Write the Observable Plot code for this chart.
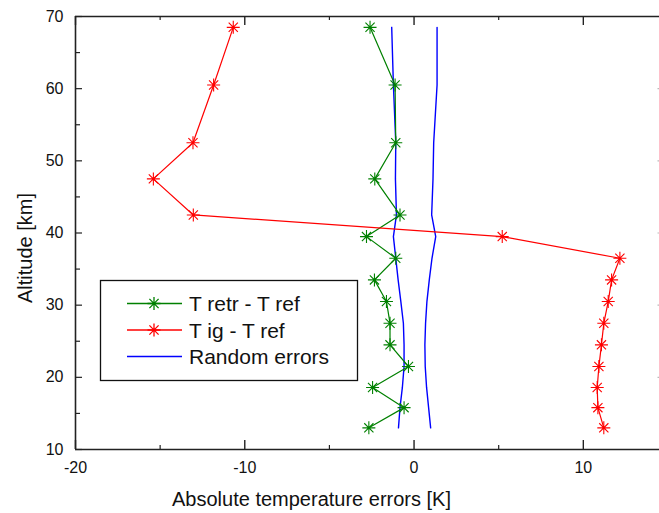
<!DOCTYPE html>
<html><head><meta charset="utf-8">
<script src="https://cdn.jsdelivr.net/npm/d3@7"></script>
<script src="https://cdn.jsdelivr.net/npm/@observablehq/plot@0.6"></script>
<style>
body{margin:0;background:#fff;}
#chart{width:659px;height:513px;}
</style></head><body><div id="chart"></div>
<script>
// ---- data ----
const altitudes    = [68.5, 60.5, 52.5, 47.5, 42.5, 39.5, 36.5, 33.5, 30.5, 27.5, 24.5, 21.5, 18.6, 15.8, 13.0];
const retrMinusRef = [-2.6, -1.12, -1.08, -2.32, -0.83, -2.81, -1.08, -2.34, -1.63, -1.42, -1.42, -0.33, -2.45, -0.59, -2.67];
const igMinusRef   = [-10.68, -11.84, -13.06, -15.4, -13.04, 5.21, 12.16, 11.67, 11.47, 11.21, 11.07, 10.92, 10.82, 10.86, 11.21];
const randomLow    = [-1.32, -1.22, -1.08, -1.10, -1.04, -1.22, -1.08, -0.94, -0.78, -0.63, -0.59, -0.59, -0.69, -0.83, -0.92];
const randomHigh   = [1.36, 1.36, 1.16, 1.12, 1.04, 1.28, 1.06, 0.90, 0.76, 0.68, 0.64, 0.66, 0.74, 0.86, 0.98];
const seriesNames  = ["T retr - T ref", "T ig - T ref", "Random errors"];
const seriesColors = ["#008000", "#ff0000", "#0000ff"];
const xTickValues  = [-20, -10, 0, 10];
const xTickLabels  = ["-20", "-10", "0", "10"];
const xMinorTicks  = [-15, -5, 5];
const yTickValues  = [10, 20, 30, 40, 50, 60, 70];
const yTickLabels  = ["10", "20", "30", "40", "50", "60", "70"];
const yMinorTicks  = [15, 25, 35, 45, 55, 65];
const xLabel = "Absolute temperature errors [K]";
const yLabel = "Altitude [km]";

// ---- build ----
const rows = (xs) => altitudes.map((a, i) => ({alt: a, v: xs[i]}));
const retr = rows(retrMinusRef), ig = rows(igMinusRef), lo = rows(randomLow), hi = rows(randomHigh);

const asterisk = {
  draw(ctx, size) {
    const r = Math.sqrt(size / Math.PI), d = r * Math.SQRT1_2;
    ctx.moveTo(0, -r); ctx.lineTo(0, r);
    ctx.moveTo(-r, 0); ctx.lineTo(r, 0);
    ctx.moveTo(-d, -d); ctx.lineTo(d, d);
    ctx.moveTo(-d, d); ctx.lineTo(d, -d);
  }
};

const W = 659, H = 513, mL = 75, mR = 0, mT = 16, mB = 64;
const pw = W - mL - mR, ph = H - mT - mB;
const axisColor = "#222";
const font = "'Liberation Sans', Arial, Helvetica, sans-serif";

const chart = Plot.plot({
  width: W, height: H,
  marginLeft: mL, marginRight: mR, marginTop: mT, marginBottom: mB,
  style: {fontFamily: font, fontSize: "16px", color: "#111", background: "white"},
  x: {domain: [-20, 14.5]},
  y: {domain: [10, 70]},
  marks: [
    // frame
    Plot.ruleY([70], {stroke: axisColor, strokeWidth: 1.6}),
    Plot.ruleY([10], {stroke: axisColor, strokeWidth: 1.6}),
    Plot.ruleX([-20], {stroke: axisColor, strokeWidth: 1.6}),
    // inward ticks
    Plot.tickX(xTickValues, {x: d => d, insetTop: ph - 9, stroke: axisColor, strokeWidth: 1.4}),
    Plot.tickX(xTickValues, {x: d => d, insetBottom: ph - 9, stroke: axisColor, strokeWidth: 1.4}),
    Plot.tickX(xMinorTicks, {x: d => d, insetTop: ph - 4, stroke: axisColor, strokeWidth: 1.2}),
    Plot.tickX(xMinorTicks, {x: d => d, insetBottom: ph - 4, stroke: axisColor, strokeWidth: 1.2}),
    Plot.tickY(yTickValues, {y: d => d, insetRight: pw - 7, stroke: axisColor, strokeWidth: 1.2}),
    Plot.tickY(yMinorTicks, {y: d => d, insetRight: pw - 5, stroke: axisColor, strokeWidth: 1.2}),
    Plot.tickY(yTickValues.slice(1, -1), {y: d => d, insetLeft: pw - 1.5, stroke: "#bbb", strokeWidth: 1.2}),
    // tick labels
    Plot.axisX({ticks: xTickValues, tickFormat: d => xTickLabels[xTickValues.indexOf(d)], tickSize: 0, tickPadding: 12, fontSize: 16, label: null}),
    Plot.axisY({ticks: yTickValues, tickFormat: d => yTickLabels[yTickValues.indexOf(d)], tickSize: 0, tickPadding: 12, fontSize: 16, label: null}),
    // axis titles
    Plot.text([xLabel], {frameAnchor: "bottom-left", dx: 236, dy: 50, fontSize: 20, textAnchor: "middle", lineAnchor: "middle", fill: "#111"}),
    Plot.text([yLabel], {frameAnchor: "left", rotate: -90, dx: -50, dy: 15, fontSize: 20, textAnchor: "middle", lineAnchor: "middle", fill: "#111"}),
    // data
    Plot.line(lo, {x: "v", y: "alt", stroke: seriesColors[2], strokeWidth: 1.4}),
    Plot.line(hi, {x: "v", y: "alt", stroke: seriesColors[2], strokeWidth: 1.4}),
    Plot.line(retr, {x: "v", y: "alt", stroke: seriesColors[0], strokeWidth: 1.2}),
    Plot.dot(retr, {x: "v", y: "alt", symbol: asterisk, r: 6.5, stroke: seriesColors[0], fill: "none", strokeWidth: 1.1}),
    Plot.line(ig, {x: "v", y: "alt", stroke: seriesColors[1], strokeWidth: 1.2}),
    Plot.dot(ig, {x: "v", y: "alt", symbol: asterisk, r: 6.5, stroke: seriesColors[1], fill: "none", strokeWidth: 1.1})
  ]
});

// ---- legend (inside the plot area) ----
const svg = d3.select(chart);
const lg = svg.append("g").attr("font-family", font).attr("text-anchor", "start");
lg.append("rect").attr("x", 100.5).attr("y", 280.5).attr("width", 257).attr("height", 100)
  .attr("fill", "white").attr("stroke", "#111").attr("stroke-width", 1.3);
const rowY = [303.5, 330, 356.5];
seriesNames.forEach((name, i) => {
  const y = rowY[i];
  lg.append("line").attr("x1", 127).attr("x2", 182).attr("y1", y).attr("y2", y)
    .attr("stroke", seriesColors[i]).attr("stroke-width", 1.3);
  if (i < 2) {
    const p = d3.path();
    asterisk.draw(p, Math.PI * 6.5 * 6.5);
    lg.append("path").attr("d", p.toString()).attr("transform", `translate(154,${y})`)
      .attr("stroke", seriesColors[i]).attr("fill", "none").attr("stroke-width", 1.3);
  }
  lg.append("text").attr("x", 189).attr("y", y + 7.5).attr("font-size", 21)
    .attr("text-anchor", "start").attr("fill", "#111").text(name);
});

document.getElementById("chart").appendChild(chart);
</script>
</body></html>
